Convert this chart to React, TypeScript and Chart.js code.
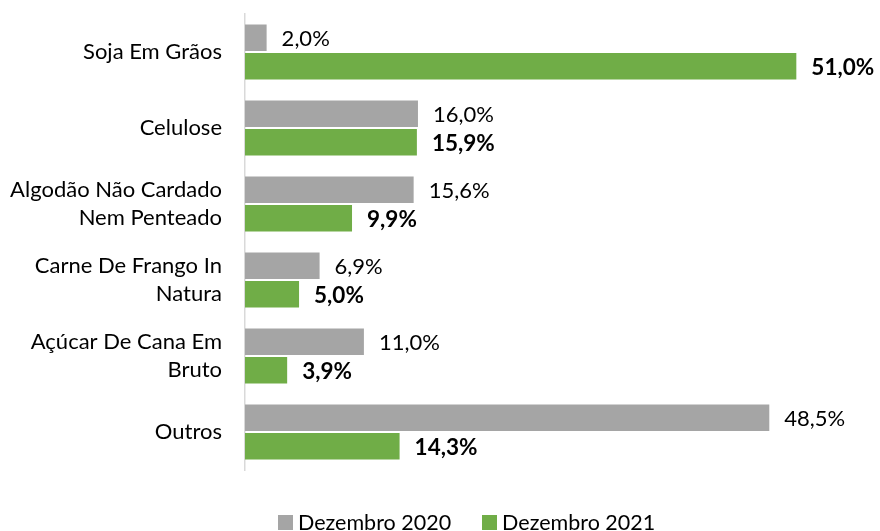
import React, { useEffect, useRef } from "react";
import { Chart, registerables } from "chart.js";

Chart.register(...registerables);

const categories: string[][] = [
  ["Soja Em Grãos"],
  ["Celulose"],
  ["Algodão Não Cardado", "Nem Penteado"],
  ["Carne De Frango In", "Natura"],
  ["Açúcar De Cana Em", "Bruto"],
  ["Outros"],
];
const dez2020: number[] = [2.0, 16.0, 15.6, 6.9, 11.0, 48.5];
const dez2021: number[] = [51.0, 15.9, 9.9, 5.0, 3.9, 14.3];
const seriesNames: string[] = ["Dezembro 2020", "Dezembro 2021"];
const GRAY = "#A5A5A5";
const GREEN = "#70AD47";
const FONT = "Lato, 'Open Sans', sans-serif";

const fmt = (v: number) => v.toFixed(1).replace(".", ",") + "%";

const labelPlugin = {
  id: "barLabels",
  afterDatasetsDraw(chart: any) {
    const ctx = chart.ctx;
    ctx.save();
    ctx.textBaseline = "middle";
    ctx.textAlign = "left";
    ctx.fillStyle = "#000";
    chart.data.datasets.forEach((ds: any, i: number) => {
      const meta = chart.getDatasetMeta(i);
      ctx.font = i === 1 ? `bold 22.5px ${FONT}` : `22px ${FONT}`;
      meta.data.forEach((el: any, j: number) => {
        ctx.fillText(fmt(ds.data[j]), el.x + 15, el.y + 1);
      });
    });
    ctx.restore();
  },
};

export default function App() {
  const ref = useRef<HTMLCanvasElement>(null);
  useEffect(() => {
    if (!ref.current) return;
    const chart = new Chart(ref.current, {
      type: "bar",
      data: {
        labels: categories,
        datasets: [
          { label: seriesNames[0], data: dez2020, backgroundColor: GRAY },
          { label: seriesNames[1], data: dez2021, backgroundColor: GREEN },
        ],
      },
      options: {
        indexAxis: "y",
        animation: false,
        responsive: false,
        maintainAspectRatio: false,
        datasets: { bar: { categoryPercentage: 0.75, barPercentage: 0.93 } },
        layout: { padding: { top: 14, bottom: 61, right: 8, left: 0 } },
        plugins: { legend: { display: false }, tooltip: { enabled: false } },
        scales: {
          x: { display: false, min: 0, max: 58 },
          y: {
            afterFit(scale: any) {
              scale.width = 245;
              scale.paddingTop = 0;
              scale.paddingBottom = 0;
            },
            grid: { display: false, drawTicks: false },
            border: { display: true, color: "#D9D9D9", width: 1.5 },
            ticks: {
              padding: 23,
              color: "#000",
              font: { family: FONT, size: 22, lineHeight: 1.27 },
            },
          },
        },
      },
      plugins: [labelPlugin],
    });
    return () => chart.destroy();
  }, []);

  const legendItem = (color: string, text: string, mr: number) => (
    <div style={{ display: "flex", alignItems: "center", marginRight: mr }}>
      <span style={{ width: 15, height: 15, background: color, display: "inline-block", marginRight: 5 }} />
      <span>{text}</span>
    </div>
  );

  return (
    <div style={{ position: "fixed", left: 0, top: 0, width: 880, height: 531, background: "#fff" }}>
      <canvas ref={ref} width={880} height={531} style={{ display: "block" }} />
      <div
        style={{
          position: "absolute",
          top: 508,
          left: 278,
          display: "flex",
          fontFamily: FONT,
          fontSize: 21.5,
          color: "#000",
          lineHeight: "28px",
        }}
      >
        {legendItem(GRAY, seriesNames[0], 31)}
        {legendItem(GREEN, seriesNames[1], 0)}
      </div>
    </div>
  );
}
